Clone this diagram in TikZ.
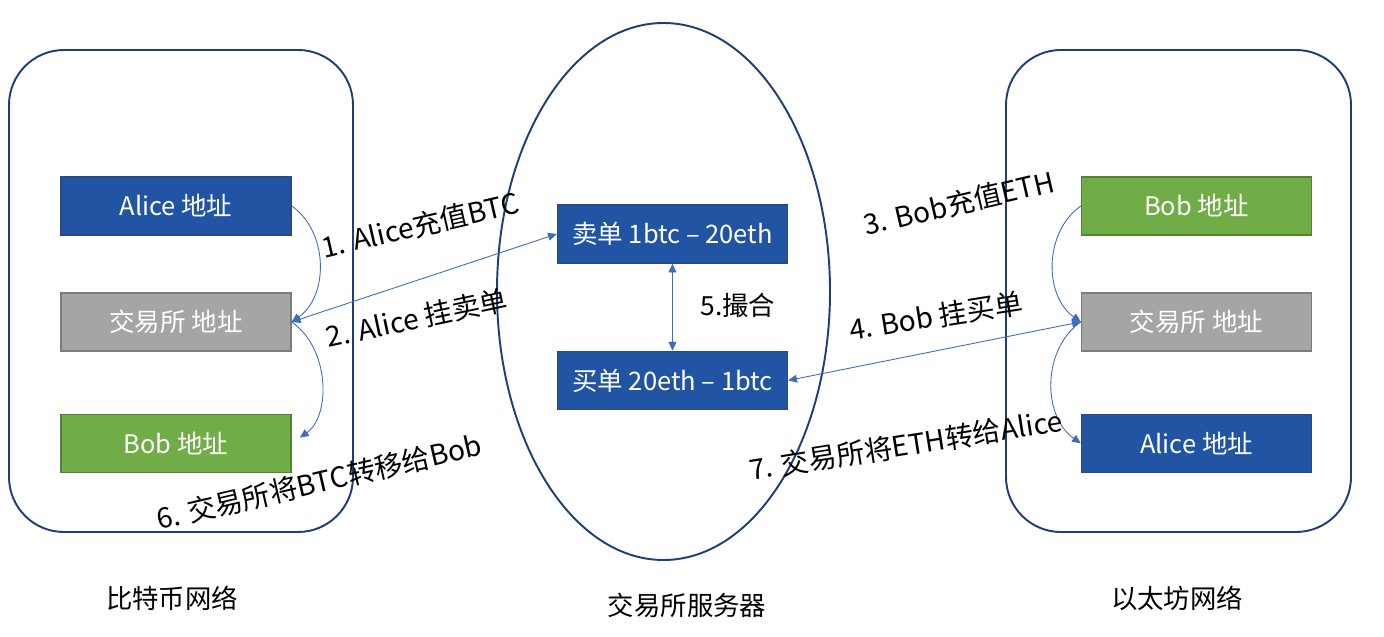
\documentclass[tikz,border=0pt]{standalone}
\usepackage{fontspec}
\setmainfont{Noto Sans CJK SC}
\usetikzlibrary{positioning,arrows.meta}
\definecolor{boxblue}{RGB}{33,85,163}
\definecolor{boxblueline}{RGB}{40,74,135}
\definecolor{boxgreen}{RGB}{112,173,71}
\definecolor{boxgreenline}{RGB}{84,130,53}
\definecolor{boxgrey}{RGB}{165,165,165}
\definecolor{boxgreyline}{RGB}{124,124,124}
\definecolor{netblue}{RGB}{31,62,120}
\definecolor{arrowblue}{RGB}{62,108,190}

\begin{document}
\begin{tikzpicture}
[box/.style={draw,line width=0.8pt,minimum width=4.6cm,minimum height=1.16cm,text=white,font=\fontsize{14.5}{17}\selectfont},
 bluebox/.style={box,fill=boxblue,draw=boxblueline},
 greenbox/.style={box,fill=boxgreen,draw=boxgreenline},
 greybox/.style={box,fill=boxgrey,draw=boxgreyline},
 net/.style={draw=netblue,line width=1.1pt},
 flow/.style={draw=arrowblue,line width=0.5pt,-{Triangle[length=5pt,width=4.5pt]}},
 twoway/.style={draw=arrowblue,line width=0.5pt,{Triangle[length=5pt,width=4.5pt]}-{Triangle[length=5pt,width=4.5pt]}},
 note/.style={font=\fontsize{16}{19}\selectfont},
 netname/.style={font=\fontsize{15}{18}\selectfont}]
\useasboundingbox (0,0) rectangle (27.68,12.72);
% networks and server
\draw[net,rounded corners=1.1cm] (0.18,2.08) rectangle (7.06,11.72);
\draw[net,rounded corners=1.1cm] (20.12,2.08) rectangle (27.02,11.72);
\draw[net] (13.27,6.89) ellipse [x radius=3.33, y radius=5.37];
% bitcoin side
\node[bluebox](aliceL) at (3.52,8.60){Alice 地址};
\node[greybox,below=1.13cm of aliceL](exL){交易所 地址};
\node[greenbox,below=1.24cm of exL](bobL){Bob 地址};
% ethereum side
\node[greenbox](bobR) at (23.93,8.60){Bob 地址};
\node[greybox,below=1.13cm of bobR](exR){交易所 地址};
\node[bluebox,below=1.24cm of exR](aliceR){Alice 地址};
% order book
\node[bluebox](sell) at (13.45,8.04){卖单 1btc – 20eth};
\node[bluebox,below=1.74cm of sell](buy){买单 20eth – 1btc};
% arrows
\draw[flow] (aliceL.east) to[bend left=55] (exL.east);
\draw[flow,shorten >=0.2cm] (exL.east) to[bend left=55] (bobL.east);
\draw[flow] (bobR.west) to[bend right=55] (exR.west);
\draw[flow] (exR.west) to[bend right=55] (aliceR.west);
\draw[twoway] (exL.east) -- (sell.west);
\draw[twoway] (sell.south) -- (buy.north);
\draw[twoway] (buy.east) -- (exR.west);
% step labels
\node[note,rotate=13](s1) at (8.40,8.22){1. Alice充值BTC};
\node[note,rotate=12](s2) at (8.34,6.36){2. Alice 挂卖单};
\node[note,rotate=13](s3) at (19.18,8.66){3. Bob充值ETH};
\node[note,rotate=9](s4) at (18.72,6.40){4. Bob 挂买单};
\node[netname](s5) at (14.76,6.62){5.撮合};
\node[note,rotate=13](s6) at (6.38,3.08){6. 交易所将BTC转移给Bob};
\node[note,rotate=9](s7) at (18.12,3.82){7. 交易所将ETH转给Alice};
\node[netname](btc) at (3.44,0.76){比特币网络};
\node[netname](srv) at (13.74,0.62){交易所服务器};
\node[netname](eth) at (23.54,0.76){以太坊网络};
\end{tikzpicture}
\end{document}
